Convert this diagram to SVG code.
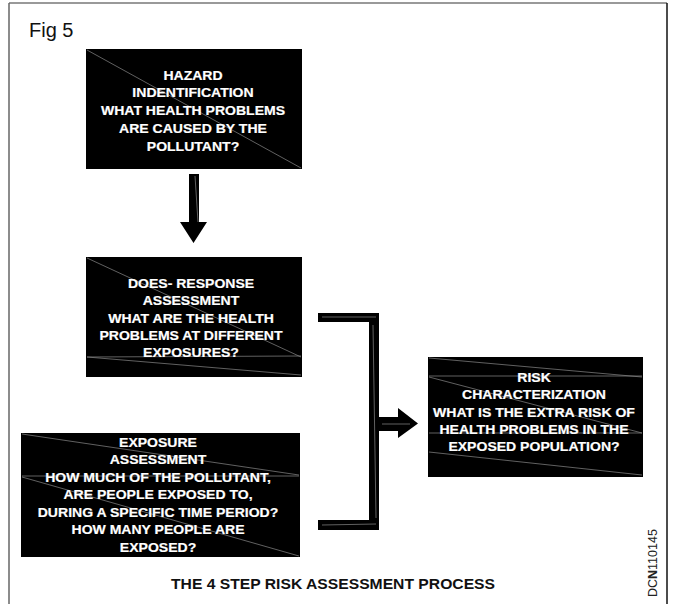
<svg xmlns="http://www.w3.org/2000/svg" width="679" height="604" viewBox="0 0 679 604">
<style>
.box{fill:#000}
.art{stroke:#8a8a8a;stroke-width:0.7;fill:none}
.t{font-family:"Liberation Sans",Arial,sans-serif;font-weight:bold;font-size:13px;fill:#fff;stroke:#fff;stroke-width:0.2;text-anchor:middle}
.conn{fill:#000}
</style>
<rect width="679" height="604" fill="#fff"/>
<g id="frame">
<line x1="9" y1="3" x2="667" y2="3" stroke="#777" stroke-width="1.5"/>
<line x1="9" y1="3" x2="9" y2="604" stroke="#666" stroke-width="1.5"/>
<line x1="667" y1="3" x2="667" y2="604" stroke="#111" stroke-width="1.5"/>
<text x="29" y="37" font-family="Liberation Sans,Arial,sans-serif" font-size="20" fill="#111">Fig 5</text>
</g>
<g id="hazard">
<rect class="box" x="86" y="49" width="216" height="120"/>
<line class="art" x1="87" y1="50" x2="301" y2="168"/>
<g transform="translate(193 0) scale(1.08 1)">
<text class="t" x="0" y="80">HAZARD</text>
<text class="t" x="0" y="97.5">INDENTIFICATION</text>
<text class="t" x="0" y="115">WHAT HEALTH PROBLEMS</text>
<text class="t" x="0" y="133">ARE CAUSED BY THE</text>
<text class="t" x="0" y="151">POLLUTANT?</text>
</g>
</g>
<g id="dose">
<rect class="box" x="86" y="257" width="216" height="120"/>
<line class="art" x1="87" y1="258" x2="301" y2="357"/>
<line class="art" x1="87" y1="357" x2="301" y2="356"/>
<line class="art" x1="87" y1="357" x2="301" y2="375"/>
<g transform="translate(191 0) scale(1.08 1)">
<text class="t" x="0" y="288">DOES- RESPONSE</text>
<text class="t" x="0" y="305.5">ASSESSMENT</text>
<text class="t" x="0" y="323">WHAT ARE THE HEALTH</text>
<text class="t" x="0" y="340">PROBLEMS AT DIFFERENT</text>
<text class="t" x="0" y="357.5">EXPOSURES?</text>
</g>
</g>
<g id="exposure">
<rect class="box" x="21" y="433" width="279" height="124"/>
<line class="art" x1="22" y1="434" x2="299" y2="475"/>
<line class="art" x1="22" y1="476" x2="299" y2="476"/>
<line class="art" x1="22" y1="477" x2="299" y2="556"/>
<g transform="translate(158 0) scale(1.08 1)">
<text class="t" x="0" y="447">EXPOSURE</text>
<text class="t" x="0" y="464.5">ASSESSMENT</text>
<text class="t" x="0" y="482">HOW MUCH OF THE POLLUTANT,</text>
<text class="t" x="0" y="499.5">ARE PEOPLE EXPOSED TO,</text>
<text class="t" x="0" y="517">DURING A SPECIFIC TIME PERIOD?</text>
<text class="t" x="0" y="534.5">HOW MANY PEOPLE ARE</text>
<text class="t" x="0" y="552">EXPOSED?</text>
</g>
</g>
<g id="risk">
<rect class="box" x="428" y="357" width="215" height="120"/>
<line class="art" x1="429" y1="358" x2="642" y2="377"/>
<line class="art" x1="429" y1="376" x2="642" y2="376"/>
<line class="art" x1="429" y1="377" x2="642" y2="433"/>
<line class="art" x1="429" y1="433" x2="642" y2="433"/>
<line class="art" x1="429" y1="452" x2="642" y2="475"/>
<g transform="translate(534 0) scale(1.08 1)">
<text class="t" x="0" y="382">RISK</text>
<text class="t" x="0" y="399.5">CHARACTERIZATION</text>
<text class="t" x="0" y="417">WHAT IS THE EXTRA RISK OF</text>
<text class="t" x="0" y="434">HEALTH PROBLEMS IN THE</text>
<text class="t" x="0" y="451.5">EXPOSED POPULATION?</text>
</g>
</g>
<g id="connectors">
<path class="conn" d="M189,174 H199 V222 H207 L193.5,243 L180,222 H189 Z"/>
<path class="conn" d="M318,313 H379 V530 H318 V520 H369 V322 H318 Z"/>
<path class="conn" d="M379,417 H398 V408 L418,423.5 L398,438 V431 H379 Z"/>
<line class="art" x1="195" y1="176" x2="198" y2="222"/>
<line class="art" x1="322" y1="317" x2="376" y2="317"/>
<line class="art" x1="373" y1="325" x2="376" y2="518"/>
<line class="art" x1="322" y1="525" x2="376" y2="524"/>
<line class="art" x1="382" y1="424" x2="410" y2="424"/>
</g>
<g id="caption">
<g transform="translate(333 0) scale(1.12 1)">
<text x="0" y="589" font-family="Liberation Sans,Arial,sans-serif" font-weight="bold" font-size="14" fill="#111" text-anchor="middle">THE 4 STEP RISK ASSESSMENT PROCESS</text>
</g>
<text transform="translate(657 597) rotate(-90)" font-family="Liberation Sans,Arial,sans-serif" font-size="12.5" fill="#222">DC<tspan font-weight="bold">N</tspan>110145</text>
</g>
</svg>
